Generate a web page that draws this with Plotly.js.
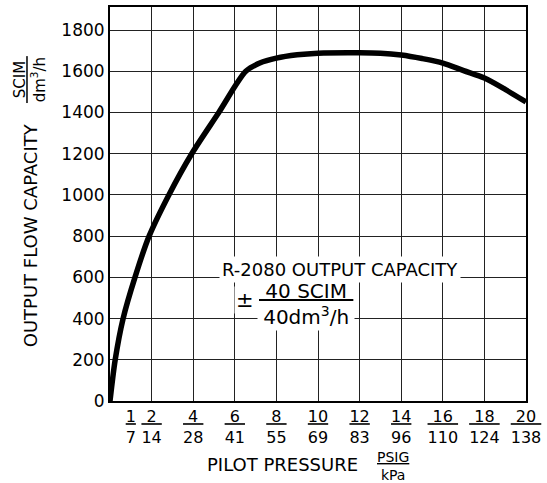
<!DOCTYPE html>
<html>
<head>
<meta charset="utf-8">
<script src="https://cdn.plot.ly/plotly-3.0.1.min.js"></script>
<style>html,body{margin:0;padding:0;background:#fff;}</style>
</head>
<body>
<div id="chart" style="width:547px;height:483px;"></div>
<script>
// Pilot pressure (PSIG) and output flow capacity (SCIM)
const pilotPsig = [0, 0.25, 0.63, 1.2, 1.88, 2.83, 3.93, 5.23, 6.53, 7.2, 8, 9, 10, 12, 13, 14, 15, 16, 17, 18, 19, 20];
const flowScim  = [0, 200, 400, 600, 800, 1000, 1200, 1400, 1600, 1640, 1664, 1680, 1688, 1690, 1688, 1679, 1662, 1640, 1603, 1567, 1512, 1451];

// Axis ticks
const xLabelVals = [1, 2, 4, 6, 8, 10, 12, 14, 16, 18, 20];
const xPsig = ["1", "2", "4", "6", "8", "10", "12", "14", "16", "18", "20"];
const xKpa  = ["7", "14", "28", "41", "55", "69", "83", "96", "110", "124", "138"];
const xGridVals = [2, 4, 6, 8, 10, 12, 14, 16, 18, 20];
const yTickVals = [0, 200, 400, 600, 800, 1000, 1200, 1400, 1600, 1800];

const NB = "\u00a0";
function frac(num, den) {
  let pad = "";
  const diff = den.length - num.length;
  for (let i = 0; i < diff; i++) pad += NB;
  return "<u>" + pad + num + pad + "</u><br>" + den;
}
const xTickText = xPsig.map((p, i) => frac(p, xKpa[i]));

const FONT = "DejaVu Sans";

const data = [
  {
    x: pilotPsig,
    y: flowScim,
    type: "scatter",
    mode: "lines",
    line: {color: "#000", width: 5.5, shape: "spline", smoothing: 0.8},
    hoverinfo: "skip",
    xaxis: "x",
    yaxis: "y"
  },
  {
    // empty trace so the grid-only overlay axis is drawn
    x: [],
    y: [],
    type: "scatter",
    mode: "lines",
    hoverinfo: "skip",
    xaxis: "x2",
    yaxis: "y"
  }
];

const layout = {
  width: 547,
  height: 483,
  margin: {l: 110, r: 21, t: 7, b: 82},
  paper_bgcolor: "#fff",
  plot_bgcolor: "#fff",
  showlegend: false,
  font: {family: FONT, color: "#000", size: 17},
  xaxis: {
    range: [0, 20],
    tickmode: "array",
    tickvals: xLabelVals,
    ticktext: xTickText,
    showgrid: false,
    zeroline: false,
    showline: true,
    mirror: true,
    linecolor: "#000",
    linewidth: 2,
    ticks: "",
    tickfont: {family: FONT, size: 16, color: "#000"},
    fixedrange: true
  },
  xaxis2: {
    overlaying: "x",
    range: [0, 20],
    tickmode: "array",
    tickvals: xGridVals,
    showticklabels: false,
    showgrid: true,
    gridcolor: "#222",
    gridwidth: 1,
    zeroline: false,
    showline: false,
    ticks: "",
    side: "bottom",
    anchor: "y",
    fixedrange: true
  },
  yaxis: {
    range: [0, 1912],
    tickmode: "array",
    tickvals: yTickVals,
    showgrid: true,
    gridcolor: "#222",
    gridwidth: 1,
    zeroline: false,
    showline: true,
    mirror: true,
    linecolor: "#000",
    linewidth: 2,
    ticks: "",
    tickfont: {family: FONT, size: 17, color: "#000"},
    fixedrange: true
  },
  annotations: [
    {xref: "paper", yref: "paper", x: -0.192, y: 0.421, text: "OUTPUT FLOW CAPACITY",
     textangle: -90, showarrow: false, font: {family: FONT, size: 18, color: "#000"},
     xanchor: "center", yanchor: "middle"},
    {xref: "paper", yref: "paper", x: -0.192, y: 0.815,
     text: "<u>" + NB + "SCIM" + NB + "</u><br>dm<sup>3</sup>/h",
     textangle: -90, showarrow: false, font: {family: FONT, size: 15, color: "#000"},
     xanchor: "center", yanchor: "middle"},
    {xref: "paper", yref: "paper", x: 0.415, y: -0.16, text: "PILOT PRESSURE",
     showarrow: false, font: {family: FONT, size: 18, color: "#000"},
     xanchor: "center", yanchor: "middle"},
    {xref: "paper", yref: "paper", x: 0.68, y: -0.166, text: "<u>PSIG</u><br>kPa",
     showarrow: false, font: {family: FONT, size: 14, color: "#000"},
     xanchor: "center", yanchor: "middle"},
    {xref: "paper", yref: "paper", x: 0.553, y: 0.3325, text: "R-2080 OUTPUT CAPACITY",
     showarrow: false, font: {family: FONT, size: 18, color: "#000"},
     bgcolor: "#fff", borderpad: 2, xanchor: "center", yanchor: "middle"},
    {xref: "paper", yref: "paper", x: 0.3245, y: 0.2563, text: "±",
     showarrow: false, font: {family: FONT, size: 21, color: "#000"},
     bgcolor: "#fff", xanchor: "center", yanchor: "middle"},
    {xref: "paper", yref: "paper", x: 0.471, y: 0.246,
     text: "<u>" + NB + "40 SCIM" + NB + "</u><br>40dm<sup>3</sup>/h",
     showarrow: false, font: {family: FONT, size: 20, color: "#000"},
     bgcolor: "#fff", borderpad: 1, xanchor: "center", yanchor: "middle"}
  ]
};

Plotly.newPlot("chart", data, layout, {staticPlot: true, displayModeBar: false});
</script>
</body>
</html>
